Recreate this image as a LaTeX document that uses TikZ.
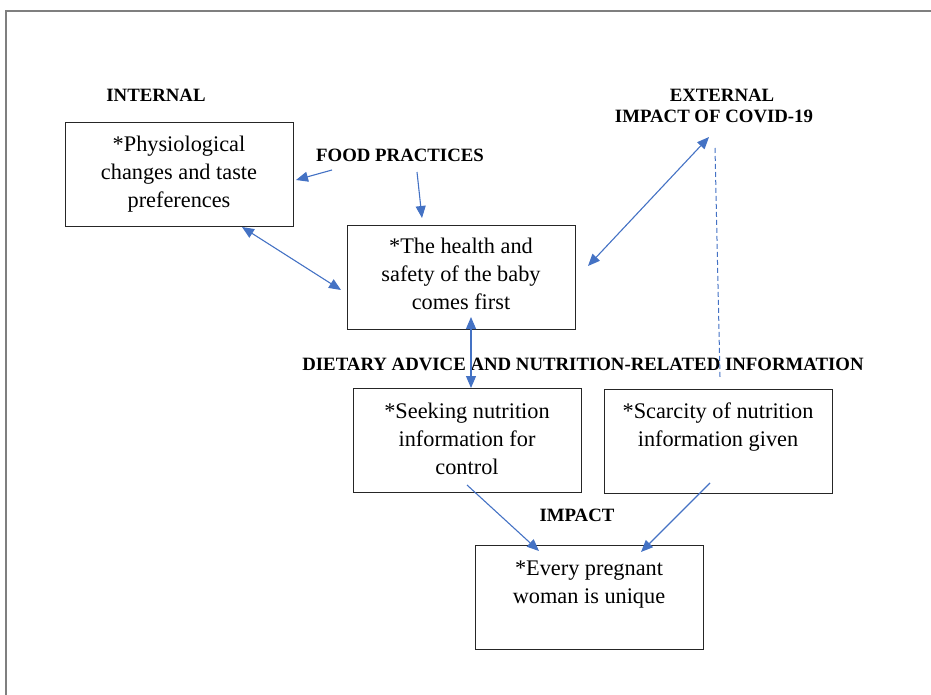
\documentclass[tikz,border=0pt]{standalone}
\usepackage{fontspec}
\setmainfont{Liberation Serif}
\usetikzlibrary{arrows.meta}
\definecolor{arrowblue}{HTML}{4472C4}
\definecolor{framegray}{HTML}{7F7F7F}
\tikzset{
  box/.style={draw=black!85, line width=1.4pt, minimum width=228pt, minimum height=104pt, inner sep=0pt, anchor=north west},
  boxtext/.style={align=center, font=\fontsize{22.3}{28}\selectfont, inner sep=0pt, anchor=north},
  lbl/.style={font=\fontsize{18.8}{22}\selectfont\bfseries, inner sep=0pt},
  link/.style={draw=arrowblue, line width=1.1pt, -{Triangle[length=12pt,width=10pt]}},
  dlink/.style={draw=arrowblue, line width=1.1pt, {Triangle[length=12pt,width=10pt]}-{Triangle[length=12pt,width=10pt]}},
  dashlink/.style={draw=arrowblue, line width=1pt, dash pattern=on 5pt off 3pt},
}
\begin{document}
\begin{tikzpicture}[x=1pt,y=-1pt]
\useasboundingbox (0,0) rectangle (931,695);
\draw[framegray, line width=1.6pt] (6,700) -- (6,11) -- (940,11);

% boxes
\node[box] (b1) at (65,122) {};
\node[box] (b2) at (347,225) {};
\node[box] (b3) at (353,388) {};
\node[box] (b4) at (604,389) {};
\node[box] (b5) at (475,545) {};

\node[boxtext] (t1) at (179,136) {*Physiological\\changes and taste\\preferences};
\node[boxtext] (t2) at (461,238) {*The health and\\safety of the baby\\comes first};
\node[boxtext] (t3) at (467,403) {*Seeking nutrition\\information for\\control};
\node[boxtext] (t4) at (718,403) {*Scarcity of nutrition\\information given};
\node[boxtext] (t5) at (589,561) {*Every pregnant\\woman is unique};

% labels
\node[lbl] (internal) at (156,95) {INTERNAL};
\node[lbl] (external) at (722,95) {EXTERNAL};
\node[lbl] (covid) at (714,116) {IMPACT OF COVID-19};
\node[lbl] (food) at (400,155) {FOOD PRACTICES};
\node[lbl] (diet) at (583,364) {DIETARY ADVICE AND NUTRITION-RELATED INFORMATION};
\node[lbl] (impact) at (577,515) {IMPACT};

% connector end points
\coordinate (fp1) at (332,170); \coordinate (b1in) at (296,180);
\coordinate (fp2) at (417,172); \coordinate (b2in) at (422,218);
\coordinate (b1o) at (242,227); \coordinate (b2l) at (341,290);
\coordinate (b2r) at (588,266); \coordinate (cv) at (709,137);
\coordinate (cvd) at (715,148); \coordinate (dd) at (720,377);
\coordinate (b2b) at (471,317); \coordinate (b3t) at (471,388);
\coordinate (b3o) at (467,485); \coordinate (b5a) at (539,551);
\coordinate (b4o) at (710,483); \coordinate (b5b) at (641,552);

\draw[link] (fp1) -- (b1in);
\draw[link] (fp2) -- (b2in);
\draw[dlink] (b1o) -- (b2l);
\draw[dlink] (b2r) -- (cv);
\draw[dashlink] (cvd) -- (dd);
\draw[dlink] (b2b) -- (b3t);
\draw[link] (b3o) -- (b5a);
\draw[link] (b4o) -- (b5b);
\end{tikzpicture}
\end{document}
